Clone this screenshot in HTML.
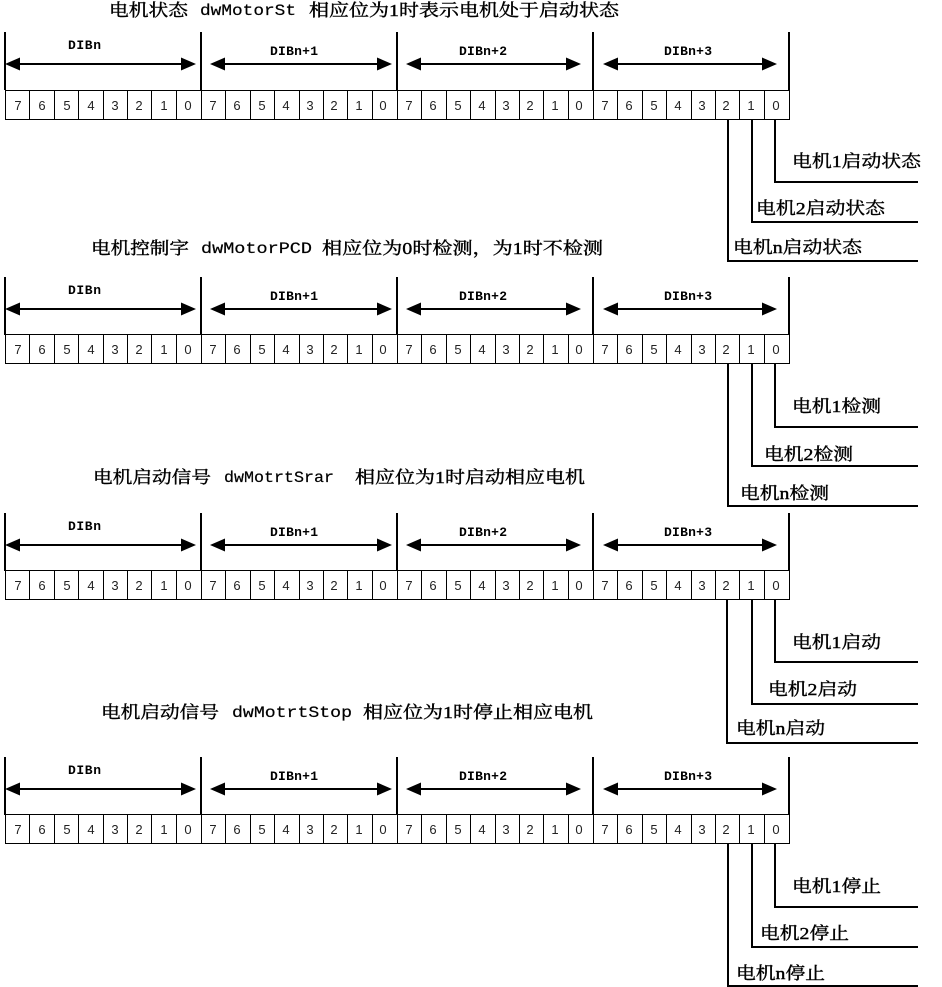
<!DOCTYPE html>
<html><head><meta charset="utf-8">
<style>
html,body{margin:0;padding:0;background:#fff;width:942px;height:987px;overflow:hidden}
svg{display:block}
.t{font-family:"Liberation Serif","Noto Serif CJK SC",serif;font-size:17px;fill:#000;stroke:#000;stroke-width:.4}
.l{font-family:"Liberation Mono",monospace;font-size:16px;fill:#000;stroke:#000;stroke-width:.2}
.b{font-family:"Liberation Mono",monospace;font-size:13px;font-weight:bold;fill:#000}
.d{font-family:"Liberation Sans",sans-serif;font-size:13px;fill:#222;text-anchor:middle}
</style></head><body>
<svg width="942" height="987" viewBox="0 0 942 987" xmlns="http://www.w3.org/2000/svg">
<defs>
<g id="top">
<path d="M5 32V90M201 32V90M397 32V90M593 32V90M789 32V90" stroke="#000" stroke-width="2" fill="none"/>
<path d="M14 64H187M219 64H383M415 64H572M612 64H768" stroke="#000" stroke-width="2" fill="none"/>
<path d="M5 64L20 57.5V70.5ZM196 64L181 57.5V70.5ZM210 64L225 57.5V70.5ZM392 64L377 57.5V70.5ZM406 64L421 57.5V70.5ZM581 64L566 57.5V70.5ZM603 64L618 57.5V70.5ZM777 64L762 57.5V70.5Z" fill="#000"/>
</g>
<g id="tbl">
<rect x="5.5" y="90.5" width="784" height="29" fill="none" stroke="#000" stroke-width="1"/>
<path d="M29.5 90V120M54.5 90V120M78.5 90V120M103.5 90V120M127.5 90V120M151.5 90V120M176.5 90V120M201.5 90V120M225.5 90V120M250.5 90V120M274.5 90V120M299.5 90V120M323.5 90V120M347.5 90V120M372.5 90V120M397.5 90V120M421.5 90V120M446.5 90V120M470.5 90V120M495.5 90V120M519.5 90V120M543.5 90V120M568.5 90V120M593.5 90V120M617.5 90V120M642.5 90V120M666.5 90V120M691.5 90V120M715.5 90V120M739.5 90V120M764.5 90V120" stroke="#000" stroke-width="1" fill="none"/>
</g>
</defs>

<text class="t" x="109" y="16" textLength="79" lengthAdjust="spacingAndGlyphs">电机状态</text>
<text class="l" x="200" y="15" textLength="96" lengthAdjust="spacingAndGlyphs">dwMotorSt</text>
<text class="t" x="309" y="16" textLength="310" lengthAdjust="spacingAndGlyphs">相应位为1时表示电机处于启动状态</text>

<text class="t" x="91" y="254" textLength="98" lengthAdjust="spacingAndGlyphs">电机控制字</text>
<text class="l" x="201" y="253" textLength="111" lengthAdjust="spacingAndGlyphs">dwMotorPCD</text>
<text class="t" x="322" y="254" textLength="281" lengthAdjust="spacingAndGlyphs">相应位为0时检测，为1时不检测</text>

<text class="t" x="93" y="483" textLength="118" lengthAdjust="spacingAndGlyphs">电机启动信号</text>
<text class="l" x="224" y="482" textLength="110" lengthAdjust="spacingAndGlyphs">dwMotrtSrar</text>
<text class="t" x="355" y="483" textLength="230" lengthAdjust="spacingAndGlyphs">相应位为1时启动相应电机</text>

<text class="t" x="101" y="718" textLength="118" lengthAdjust="spacingAndGlyphs">电机启动信号</text>
<text class="l" x="232" y="717" textLength="120" lengthAdjust="spacingAndGlyphs">dwMotrtStop</text>
<text class="t" x="363" y="718" textLength="230" lengthAdjust="spacingAndGlyphs">相应位为1时停止相应电机</text>

<use href="#top"/>
<use href="#top" y="245"/>
<use href="#top" y="481"/>
<use href="#top" y="725"/>
<use href="#tbl"/>
<use href="#tbl" y="244"/>
<use href="#tbl" y="480"/>
<use href="#tbl" y="724"/>

<g>
<text class="b" x="68" y="49" textLength="33">DIBn</text><text class="b" x="270" y="55" textLength="48">DIBn+1</text><text class="b" x="459" y="55" textLength="48">DIBn+2</text><text class="b" x="664" y="55" textLength="48">DIBn+3</text>
<text class="b" x="68" y="294" textLength="33">DIBn</text><text class="b" x="270" y="300" textLength="48">DIBn+1</text><text class="b" x="459" y="300" textLength="48">DIBn+2</text><text class="b" x="664" y="300" textLength="48">DIBn+3</text>
<text class="b" x="68" y="530" textLength="33">DIBn</text><text class="b" x="270" y="536" textLength="48">DIBn+1</text><text class="b" x="459" y="536" textLength="48">DIBn+2</text><text class="b" x="664" y="536" textLength="48">DIBn+3</text>
<text class="b" x="68" y="774" textLength="33">DIBn</text><text class="b" x="270" y="780" textLength="48">DIBn+1</text><text class="b" x="459" y="780" textLength="48">DIBn+2</text><text class="b" x="664" y="780" textLength="48">DIBn+3</text>
</g>

<g>
<text class="d" y="110" x="18 42 67 91 115 139 164 188 213 237 262 286 310 334 359 383 409 433 458 482 506 530 555 579 605 629 654 678 702 726 751 776">76543210765432107654321076543210</text>
<text class="d" y="354" x="18 42 67 91 115 139 164 188 213 237 262 286 310 334 359 383 409 433 458 482 506 530 555 579 605 629 654 678 702 726 751 776">76543210765432107654321076543210</text>
<text class="d" y="590" x="18 42 67 91 115 139 164 188 213 237 262 286 310 334 359 383 409 433 458 482 506 530 555 579 605 629 654 678 702 726 751 776">76543210765432107654321076543210</text>
<text class="d" y="834" x="18 42 67 91 115 139 164 188 213 237 262 286 310 334 359 383 409 433 458 482 506 530 555 579 605 629 654 678 702 726 751 776">76543210765432107654321076543210</text>
</g>

<path d="M775 120V182H918M752 120V222H918M728 120V261H918M775 364V427H918M752 364V466H918M728 364V506H918M775 600V662H918M752 600V704H918M727 600V743H918M775 844V907H918M752 844V947H918M728 844V986H918" fill="none" stroke="#000" stroke-width="2"/>

<text class="t" x="792" y="167" textLength="129" lengthAdjust="spacingAndGlyphs">电机1启动状态</text>
<text class="t" x="756" y="214" textLength="129" lengthAdjust="spacingAndGlyphs">电机2启动状态</text>
<text class="t" x="733" y="253" textLength="129" lengthAdjust="spacingAndGlyphs">电机n启动状态</text>
<text class="t" x="792" y="412" textLength="89" lengthAdjust="spacingAndGlyphs">电机1检测</text>
<text class="t" x="764" y="460" textLength="89" lengthAdjust="spacingAndGlyphs">电机2检测</text>
<text class="t" x="740" y="499" textLength="89" lengthAdjust="spacingAndGlyphs">电机n检测</text>
<text class="t" x="792" y="648" textLength="89" lengthAdjust="spacingAndGlyphs">电机1启动</text>
<text class="t" x="768" y="695" textLength="89" lengthAdjust="spacingAndGlyphs">电机2启动</text>
<text class="t" x="736" y="734" textLength="89" lengthAdjust="spacingAndGlyphs">电机n启动</text>
<text class="t" x="792" y="892" textLength="89" lengthAdjust="spacingAndGlyphs">电机1停止</text>
<text class="t" x="760" y="939" textLength="89" lengthAdjust="spacingAndGlyphs">电机2停止</text>
<text class="t" x="736" y="979" textLength="89" lengthAdjust="spacingAndGlyphs">电机n停止</text>
</svg>
</body></html>
